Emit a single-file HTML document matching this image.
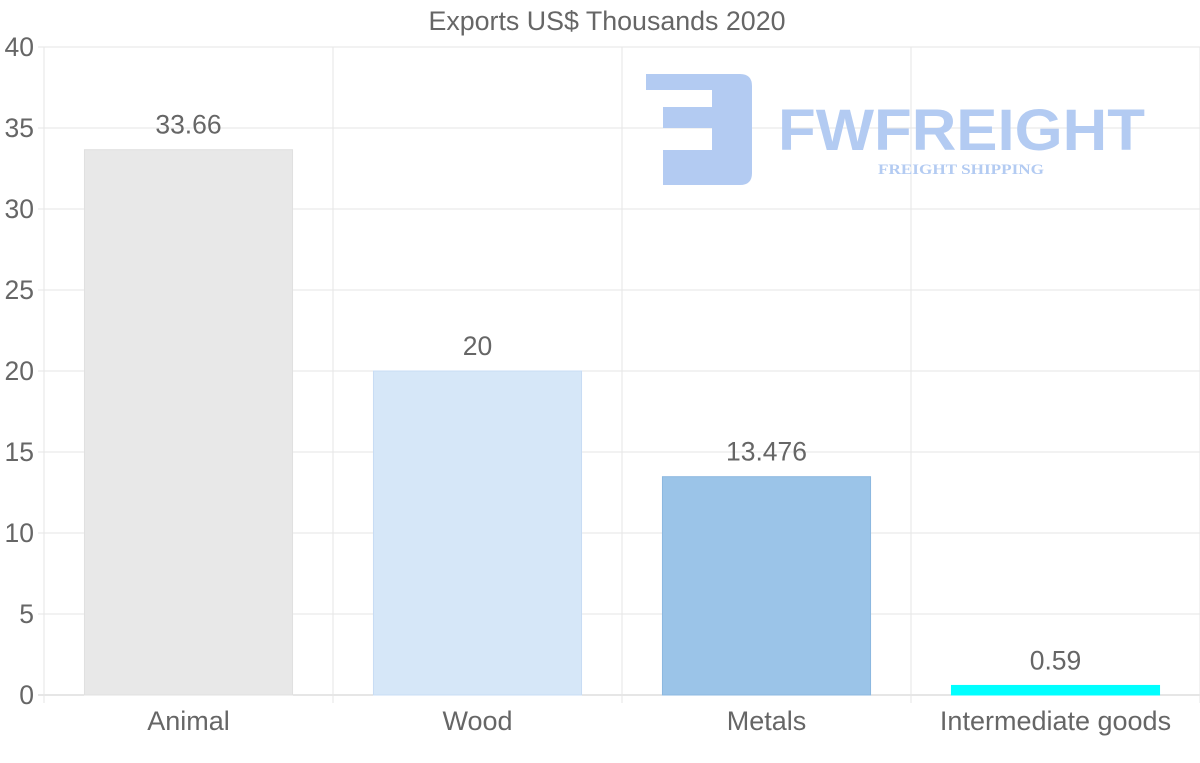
<!DOCTYPE html>
<html><head><meta charset="utf-8"><style>
html,body{margin:0;padding:0;background:#fff;}
svg{display:block;font-family:"Liberation Sans",sans-serif;}
</style></head><body>
<svg id="chart" width="1200" height="763" viewBox="0 0 1200 763">
<text x="607" y="30" text-anchor="middle" font-size="26.8" fill="#666">Exports US$ Thousands 2020</text>
<g id="grid"></g>
<g>
<path d="M646,74 H740 Q752,74 752,86 V173 Q752,185 740,185 H663 V150 H712 V128 H663 V107 H712 V90 H646 Z" fill="#b3cbf2"/>
<text x="778" y="150" font-size="58" font-weight="bold" fill="#b3cbf2" textLength="367" lengthAdjust="spacingAndGlyphs">FWFREIGHT</text>
<text x="878" y="174" font-family="Liberation Serif,serif" font-size="15" font-weight="bold" fill="#b3cbf2" textLength="166" lengthAdjust="spacingAndGlyphs">FREIGHT SHIPPING</text>
</g>
<g id="bars"></g>
<g id="labels"></g>
</svg>
<script>
const categories = ["Animal","Wood","Metals","Intermediate goods"];
const values = [33.66,20,13.476,0.59];
const valueLabels = ["33.66","20","13.476","0.59"];
const yTicks = [0,5,10,15,20,25,30,35,40];
const colors = ["#e8e8e8","#d6e7f8","#9bc4e8","#00ffff"];
const strokes = ["#e0e0e0","#c8dcf4","#8cb8e0","#00ffff"];

const NS="http://www.w3.org/2000/svg";
const L=44,R=1200,T=47,B=695,yMax=40;
const y=v=>B-(v/yMax)*(B-T);
const bw=(R-L)/categories.length;
const x=i=>L+i*bw;
function mk(tag,attrs,parent){const e=document.createElementNS(NS,tag);for(const k in attrs)e.setAttribute(k,attrs[k]);parent.appendChild(e);return e;}
const grid=document.getElementById('grid'),bars=document.getElementById('bars'),labels=document.getElementById('labels');
yTicks.forEach(t=>{
  const ln=mk('line',{x1:L-6,x2:R,y1:y(t),y2:y(t),stroke:t===0?'#ccc':'#e6e6e6','stroke-width':1},grid);
  
  
  const tx=mk('text',{x:L-10,y:y(t)+9,'text-anchor':'end','font-size':26.5,fill:'#666'},grid);
  tx.textContent=t;
  
  
});
for(let i=0;i<=categories.length;i++){
  const ln=mk('line',{x1:x(i),x2:x(i),y1:T,y2:B+8,stroke:'#e6e6e6','stroke-width':1},grid);
  
  
}
categories.forEach((c,i)=>{
  const w=bw*0.72,bx=x(i)+(bw-w)/2;
  const r=mk('rect',{x:bx,y:y(values[i]),width:w,height:B-y(values[i]),fill:colors[i],stroke:strokes[i],'stroke-width':1},bars);
  
  
  const vl=mk('text',{x:x(i)+bw/2,y:y(values[i])-16,'text-anchor':'middle','font-size':26.5,fill:'#666'},labels);
  vl.textContent=valueLabels[i];
  
  
  const cl=mk('text',{x:x(i)+bw/2,y:730,'text-anchor':'middle','font-size':27,fill:'#666'},labels);
  cl.textContent=c;
  
  
});
</script>
</body></html>
